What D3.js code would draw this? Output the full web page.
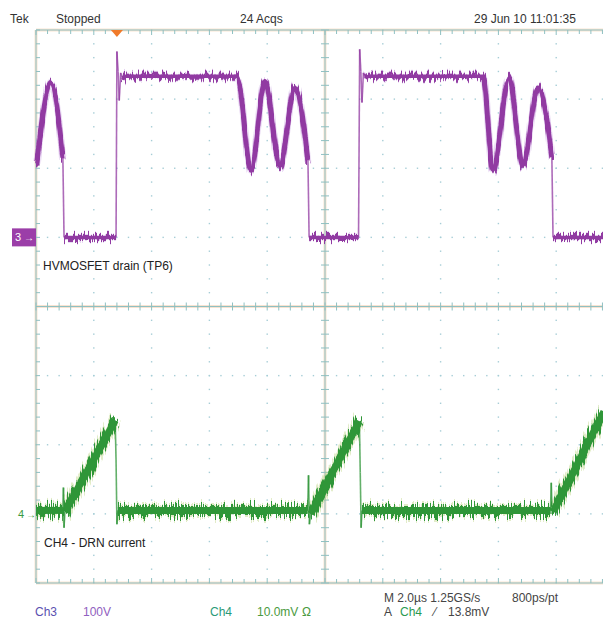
<!DOCTYPE html>
<html>
<head>
<meta charset="utf-8">
<script src="https://cdn.jsdelivr.net/npm/d3@7"></script>
<style>
  body { margin: 0; background: #fff; }
  text { font-family: "Liberation Sans", Arial, sans-serif; }
</style>
</head>
<body>
<script>
var ch3Time  = [0.03, 0.52, 0.93, 0.97, 2.77, 2.80, 2.84, 2.88, 2.93, 3.00, 3.10, 6.96, 7.44, 7.92, 8.44, 8.96, 9.41, 9.45,
                11.16, 11.20, 11.24, 11.28, 11.33, 11.40, 11.50, 15.47, 15.81, 16.37, 16.85, 17.37, 17.85, 17.89, 20.0];
var ch3Volts = [107, 223, 114, 0, 0, 269, 240, 198, 238, 228, 233, 233, 97, 227, 104, 217, 111, 0,
                0, 272, 240, 195, 238, 230, 233, 233, 97, 230, 104, 217, 116, 0, 0];

var ch4Time = [0, 0.93, 0.95, 0.97, 1.00, 2.74, 2.77, 2.80, 2.83, 9.40, 9.43, 9.46, 9.50, 11.19, 11.22, 11.25, 11.28,
               17.80, 17.83, 17.86, 17.90, 19.65];
var ch4mV   = [0.5, 0.5, 3.8, -2.0, 0.3, 13.5, 7.8, -1.5, 0.5, 0.5, 5.6, -1.5, 0.0, 13.4, 6.0, -2.0, 0.5,
               0.5, 4.5, 0.0, 0.3, 14.8];

var topLabels = ["Tek", "Stopped", "24 Acqs", "29 Jun 10 11:01:35"];
var voltsPerDiv = 100;   // Ch3
var mVPerDiv = 10;       // Ch4
var ch3Offset = 1;       // divisioni sopra il centro
var ch4Offset = -3;

var W = 603, H = 628;
var gLeft = 36, gTop = 30, divW = 57.8, divH = 69.125;
var gRight = gLeft + 10 * divW, gBottom = gTop + 8 * divH;

var x = d3.scaleLinear().domain([0, 20]).range([gLeft, gRight]);
var yDiv = d3.scaleLinear().domain([-4, 4]).range([gBottom, gTop]);
var y3 = d3.scaleLinear().domain([0, voltsPerDiv]).range([yDiv(ch3Offset), yDiv(ch3Offset + 1)]);
var y4 = d3.scaleLinear().domain([0, mVPerDiv]).range([yDiv(ch4Offset), yDiv(ch4Offset + 1)]);

var svg = d3.select("body").append("svg").attr("width", W).attr("height", H);
svg.append("rect").attr("width", W).attr("height", H).attr("fill", "#fff");

// filtri per il rumore della traccia (solo spostamento verticale)
var defs = svg.append("defs");
function noiseFilter(id, scale, seed) {
    var f = defs.append("filter").attr("id", id)
        .attr("filterUnits", "userSpaceOnUse").attr("x", 0).attr("y", 0).attr("width", W).attr("height", H);
    f.append("feTurbulence").attr("type", "fractalNoise").attr("baseFrequency", "0.7 0.02")
        .attr("numOctaves", 2).attr("seed", seed).attr("result", "t");
    f.append("feColorMatrix").attr("in", "t").attr("type", "matrix")
        .attr("values", "0 0 0 0 0.5  0 2.2 0 0 -0.6  0 0 0 0 0  0 0 0 0 1").attr("result", "m");
    f.append("feDisplacementMap").attr("in", "SourceGraphic").attr("in2", "m")
        .attr("scale", scale).attr("xChannelSelector", "R").attr("yChannelSelector", "G");
}
noiseFilter("noise3", 8, 4);
noiseFilter("noise4", 12, 7);

// griglia
var g = svg.append("g");
var xs = d3.range(0, 11).map(i => gLeft + i * divW);
var ys = d3.range(0, 9).map(j => gTop + j * divH);

// puntini della griglia
xs.forEach(function(gx, i) {
    if (i == 0 || i == 5 || i == 10) return;
    d3.range(0, 41).forEach(function(k) {
        g.append("rect").attr("x", gx - 0.7).attr("y", gTop + k * divH / 5 - 0.7)
         .attr("width", 1.4).attr("height", 1.4).attr("fill", "#a6cdd6");
    });
});
ys.forEach(function(gy, j) {
    if (j == 0 || j == 4 || j == 8) return;
    d3.range(0, 51).forEach(function(k) {
        g.append("rect").attr("x", gLeft + k * divW / 5 - 0.7).attr("y", gy - 0.7)
         .attr("width", 1.4).attr("height", 1.4).attr("fill", "#a6cdd6");
    });
});

function axisLine(x1, y1, x2, y2) {
    g.append("line").attr("x1", x1).attr("y1", y1).attr("x2", x2).attr("y2", y2)
     .attr("stroke", "#f3c9a4").attr("stroke-width", 3).attr("opacity", 0.5);
    g.append("line").attr("x1", x1).attr("y1", y1).attr("x2", x2).attr("y2", y2)
     .attr("stroke", "#8fc0c2").attr("stroke-width", 1);
}
axisLine(gLeft, gTop, gRight, gTop);
axisLine(gLeft, gBottom, gRight, gBottom);
axisLine(gLeft, gTop, gLeft, gBottom);
axisLine(x(10), gTop, x(10), gBottom);
axisLine(gLeft, yDiv(0), gRight, yDiv(0));

var tickColor = "#8fc0c2";
d3.range(0, 51).forEach(function(k) {
    var tx = gLeft + k * divW / 5;
    var len = (k % 5 == 0) ? 5 : 4;
    g.append("line").attr("x1", tx).attr("x2", tx).attr("y1", gTop).attr("y2", gTop + len).attr("stroke", tickColor);
    g.append("line").attr("x1", tx).attr("x2", tx).attr("y1", gBottom).attr("y2", gBottom - len).attr("stroke", tickColor);
    g.append("line").attr("x1", tx).attr("x2", tx).attr("y1", yDiv(0) - 4).attr("y2", yDiv(0) + 4).attr("stroke", tickColor);
});
d3.range(0, 41).forEach(function(k) {
    var ty = gTop + k * divH / 5;
    g.append("line").attr("x1", gLeft).attr("x2", gLeft + 4).attr("y1", ty).attr("y2", ty).attr("stroke", tickColor);
    g.append("line").attr("x1", x(10) - 4).attr("x2", x(10) + 4).attr("y1", ty).attr("y2", ty).attr("stroke", tickColor);
});

// tracce: i tratti lenti spessi e rumorosi, i salti rapidi sottili
function drawTrace(times, vals, yScale, o) {
    var pts = times.map((t, i) => [x(t), yScale(vals[i])]);
    var runs = [], cur = [pts[0]], jumps = [];
    for (var i = 1; i < pts.length; i++) {
        if (pts[i][0] - pts[i - 1][0] < 2.5) {
            jumps.push([pts[i - 1], pts[i]]);
            if (cur.length > 1) runs.push(cur);
            cur = [pts[i]];
        } else {
            cur.push(pts[i]);
        }
    }
    if (cur.length > 1) runs.push(cur);
    var lg = d3.line().curve(d3.curveMonotoneX);
    var tg = svg.append("g");
    tg.selectAll(".halo").data(runs).join("path").attr("class", "halo").attr("d", lg).attr("fill", "none")
      .attr("stroke", o.halo).attr("stroke-width", o.w + o.hw).attr("opacity", 0.4)
      .attr("stroke-linejoin", "round").attr("filter", "url(#" + o.filter + ")");
    tg.selectAll(".band").data(runs).join("path").attr("class", "band").attr("d", lg).attr("fill", "none")
      .attr("stroke", o.color).attr("stroke-width", o.w)
      .attr("stroke-linejoin", "round").attr("filter", "url(#" + o.filter + ")");
    tg.selectAll(".core").data(runs).join("path").attr("class", "core").attr("d", lg).attr("fill", "none")
      .attr("stroke", o.color).attr("stroke-width", o.core).attr("stroke-linejoin", "round");
    tg.selectAll(".jump").data(jumps).join("path").attr("class", "jump").attr("d", d3.line()).attr("fill", "none")
      .attr("stroke", o.color).attr("stroke-width", 1.6).attr("opacity", 0.75);
}

drawTrace(ch4Time, ch4mV, y4, {color: "#2f9638", halo: "#b8d27a", w: 9, hw: 4, core: 7, filter: "noise4"});
drawTrace(ch3Time, ch3Volts, y3, {color: "#913aa2", halo: "#c9a2e2", w: 5, hw: 2, core: 3.5, filter: "noise3"});

// marcatori dei canali
svg.append("rect").attr("x", 12).attr("y", y3(0) - 9).attr("width", 24).attr("height", 18).attr("fill", "#9b3ea8");
svg.append("text").attr("x", 15).attr("y", y3(0) + 4).attr("font-size", 11).attr("fill", "#fff").text("3");
svg.append("text").attr("x", 24).attr("y", y3(0) + 4).attr("font-size", 10).attr("fill", "#fff").text("\u2192");
svg.append("text").attr("x", 18).attr("y", y4(0) + 4).attr("font-size", 11).attr("fill", "#3a9a40").text("4");
svg.append("text").attr("x", 26).attr("y", y4(0) + 4).attr("font-size", 10).attr("fill", "#3a9a40").text("\u2192");

// trigger
svg.append("path").attr("d", d3.line()([[x(2.8) - 6, gTop], [x(2.8) + 6, gTop], [x(2.8), gTop + 7]]) + "Z")
   .attr("fill", "#f07a2a");

// etichette
svg.append("text").attr("x", 43).attr("y", 270).attr("font-size", 12).attr("fill", "#222").text("HVMOSFET drain (TP6)");
svg.append("text").attr("x", 44).attr("y", 547).attr("font-size", 12).attr("fill", "#222").text("CH4 - DRN current");

var topX = [10, 56, 240, 474];
topLabels.forEach(function(s, i) {
    svg.append("text").attr("x", topX[i]).attr("y", 23).attr("font-size", 12).attr("fill", "#333").text(s);
});

function lbl(tx, ty, s, c) {
    svg.append("text").attr("x", tx).attr("y", ty).attr("font-size", 12).attr("fill", c).text(s);
}
lbl(35, 616, "Ch3", "#5a4fb0");
lbl(83, 616, "100V", "#9060c0");
lbl(210, 616, "Ch4", "#2a9a78");
lbl(257, 616, "10.0mV", "#4a9a40");
lbl(302, 616, "\u03A9", "#4a9a40");
lbl(384, 602, "M 2.0\u00B5s 1.25GS/s", "#444");
lbl(512, 602, "800ps/pt", "#444");
lbl(384, 616, "A", "#444");
lbl(400, 616, "Ch4", "#2a9a50");
lbl(434, 616, "\u2044", "#444");
lbl(448, 616, "13.8mV", "#444");
</script>
</body>
</html>
